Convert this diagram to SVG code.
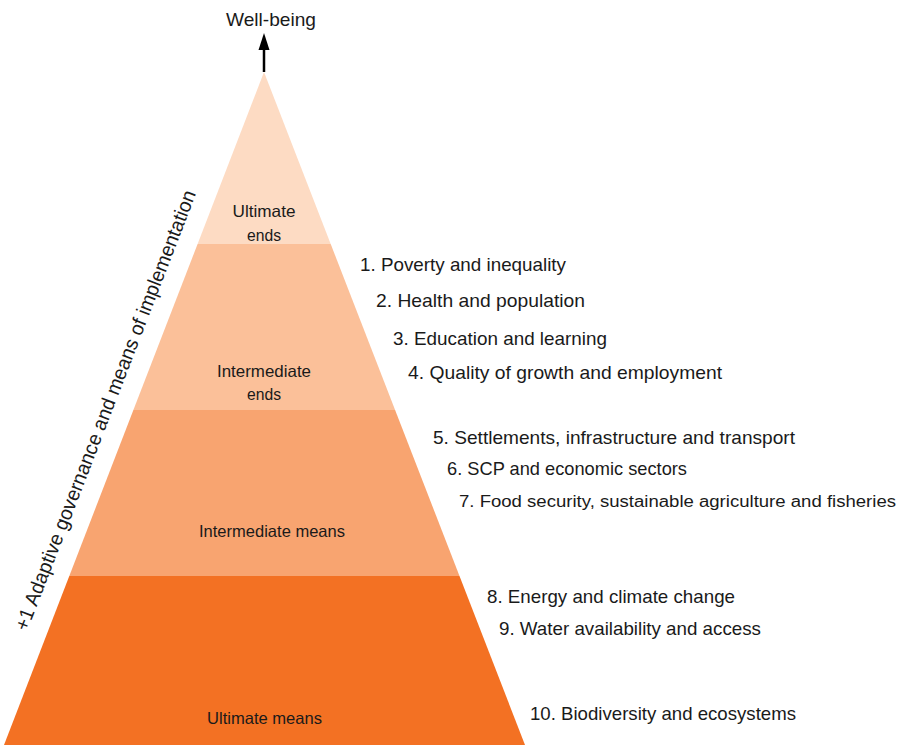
<svg xmlns="http://www.w3.org/2000/svg" width="902" height="747" viewBox="0 0 902 747">
<style>
text{font-family:"Liberation Sans",Arial,sans-serif;fill:#1a1a1a}
.band{font-size:16.5px;text-anchor:middle}
.lbl{font-size:19px}
</style>
<rect width="902" height="747" fill="#ffffff"/>
<g id="ultimate-ends">
<polygon points="264,72 330.7,244 197.6,244" fill="#FDDBC3"/>
<text class="band" x="264" y="217" textLength="63" lengthAdjust="spacingAndGlyphs">Ultimate</text>
<text class="band" x="264" y="241" textLength="34" lengthAdjust="spacingAndGlyphs">ends</text>
</g>
<g id="intermediate-ends">
<polygon points="197.6,244 330.7,244 395.1,410 133.4,410" fill="#FBC099"/>
<text class="band" x="264" y="377" textLength="94" lengthAdjust="spacingAndGlyphs">Intermediate</text>
<text class="band" x="264" y="400" textLength="34" lengthAdjust="spacingAndGlyphs">ends</text>
</g>
<g id="intermediate-means">
<polygon points="133.4,410 395.1,410 459.5,576 69.3,576" fill="#F8A470"/>
<text class="band" x="272" y="537" textLength="146" lengthAdjust="spacingAndGlyphs">Intermediate means</text>
</g>
<g id="ultimate-means">
<polygon points="69.3,576 459.5,576 525,745 4,745" fill="#F37123"/>
<text class="band" x="264.5" y="724" textLength="115" lengthAdjust="spacingAndGlyphs">Ultimate means</text>
</g>
<g id="connectors">
<line x1="264" y1="72" x2="264" y2="47" stroke="#000" stroke-width="2.5"/>
<polygon points="264,33 269.5,50 258.5,50" fill="#000"/>
</g>
<g id="well-being">
<text x="271" y="26" font-size="19" text-anchor="middle" textLength="90" lengthAdjust="spacingAndGlyphs">Well-being</text>
</g>
<g id="governance">
<text transform="translate(27,632) rotate(-68.9)" font-size="20" textLength="470" lengthAdjust="spacingAndGlyphs">+1 Adaptive governance and means of implementation</text>
</g>
<g id="labels">
<text class="lbl" x="360" y="271" textLength="206" lengthAdjust="spacingAndGlyphs">1. Poverty and inequality</text>
<text class="lbl" x="376" y="307" textLength="209" lengthAdjust="spacingAndGlyphs">2. Health and population</text>
<text class="lbl" x="393" y="345" textLength="214" lengthAdjust="spacingAndGlyphs">3. Education and learning</text>
<text class="lbl" x="408" y="379" textLength="314" lengthAdjust="spacingAndGlyphs">4. Quality of growth and employment</text>
<text class="lbl" x="433" y="444" textLength="362" lengthAdjust="spacingAndGlyphs">5. Settlements, infrastructure and transport</text>
<text class="lbl" x="447" y="475" textLength="240" lengthAdjust="spacingAndGlyphs">6. SCP and economic sectors</text>
<text x="459" y="507" font-size="17.3" textLength="437" lengthAdjust="spacingAndGlyphs">7. Food security, sustainable agriculture and fisheries</text>
<text class="lbl" x="487" y="603" textLength="248" lengthAdjust="spacingAndGlyphs">8. Energy and climate change</text>
<text class="lbl" x="499" y="635" textLength="262" lengthAdjust="spacingAndGlyphs">9. Water availability and access</text>
<text class="lbl" x="530" y="720" textLength="266" lengthAdjust="spacingAndGlyphs">10. Biodiversity and ecosystems</text>
</g>
</svg>
